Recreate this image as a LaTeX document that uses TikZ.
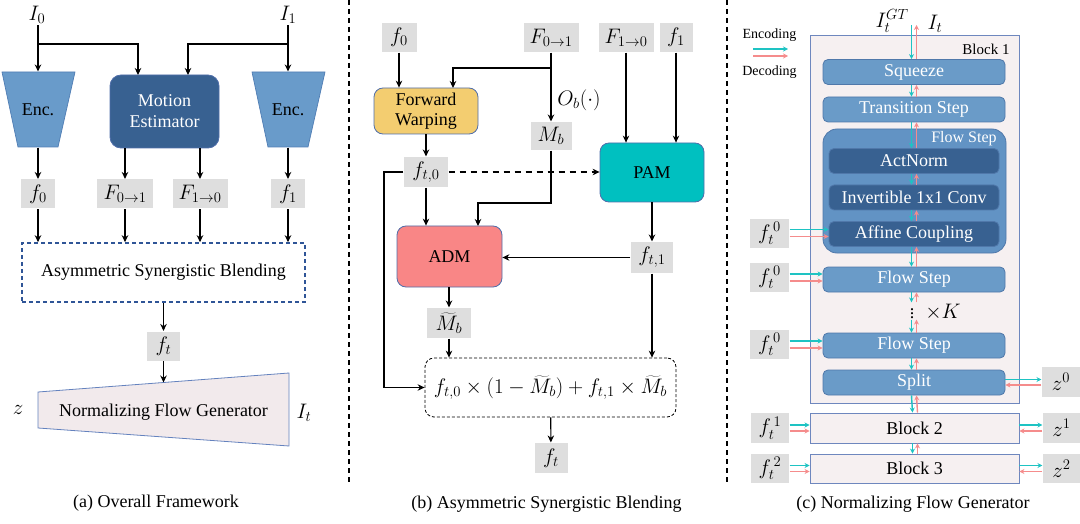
\RequirePackage{fix-cm}
\documentclass[tikz,border=0pt]{standalone}
\usepackage{fontspec}
\setmainfont{Liberation Serif}
\usetikzlibrary{arrows.meta,positioning}

\definecolor{encblue}{RGB}{105,155,202}
\definecolor{encedge}{RGB}{80,125,180}
\definecolor{darkblue}{RGB}{56,97,145}
\definecolor{lblgray}{RGB}{222,222,222}
\definecolor{asbblue}{RGB}{47,85,151}
\definecolor{nfgpink}{RGB}{242,234,236}
\definecolor{nfgedge}{RGB}{100,130,190}
\definecolor{fwgold}{RGB}{243,205,112}
\definecolor{pamteal}{RGB}{0,192,192}
\definecolor{admred}{RGB}{249,134,134}
\definecolor{edgeblue}{RGB}{80,110,170}
\definecolor{flowblue}{RGB}{106,155,200}
\definecolor{flowedge}{RGB}{80,120,170}
\definecolor{flowbig}{RGB}{98,147,196}
\definecolor{blockpink}{RGB}{246,240,241}
\definecolor{blockedge}{RGB}{110,135,190}
\definecolor{enccyan}{RGB}{30,195,195}
\definecolor{decpink}{RGB}{245,140,140}

\begin{document}
\begin{tikzpicture}[x=1pt, y=-1pt, >={Stealth[length=7pt,width=6.5pt]}, line width=1.1pt]
    \tikzstyle{txt} = [inner sep=1pt, font=\fontsize{18}{21}\selectfont]
    \tikzstyle{mtxt} = [inner sep=1pt, font=\fontsize{21}{23}\selectfont]
    \tikzstyle{lbl} = [rectangle, fill=lblgray, inner sep=0pt, minimum height=29, text centered, font=\fontsize{21}{23}\selectfont]
    \tikzstyle{procbox} = [rectangle, rounded corners=9pt, draw=edgeblue, line width=0.8pt, inner sep=0pt, align=center, font=\fontsize{18}{21}\selectfont]
    \tikzstyle{flowbox} = [rectangle, rounded corners=5pt, draw=flowedge, line width=0.8pt, fill=flowblue, text=white, minimum width=182, minimum height=25, inner sep=0pt, font=\fontsize{18}{21}\selectfont]
    \tikzstyle{innerbox} = [flowbox, fill=darkblue, minimum width=170]
    \tikzstyle{blockbox} = [rectangle, draw=blockedge, fill=blockpink, line width=0.9pt, minimum width=209, inner sep=0pt, font=\fontsize{18}{21}\selectfont]
    \tikzstyle{encarrow} = [-{Stealth[length=5pt,width=5pt]}, draw=enccyan, line width=1.4pt]
    \tikzstyle{decarrow} = [-{Stealth[length=5pt,width=5pt]}, draw=decpink, line width=1.4pt]

    \useasboundingbox (0,0) rectangle (1080,524);

    % Panel separators
    \draw[dash pattern=on 5pt off 4pt, line width=1.2pt] (349,0) -- (349,485);
    \draw[dash pattern=on 5pt off 4pt, line width=1.2pt] (727,0) -- (727,485);

    % (a) Overall framework
    \node[mtxt] (I0) at (37,15) {$I_0$};
    \node[mtxt] (I1) at (288,15) {$I_1$};
    \filldraw[fill=encblue, draw=encedge, line width=0.7pt] (2,72) -- (75,72) -- (58,147) -- (18,147) -- cycle;
    \filldraw[fill=encblue, draw=encedge, line width=0.7pt] (252,72) -- (325,72) -- (308,147) -- (268,147) -- cycle;
    \node[txt, minimum width=73, minimum height=75, inner sep=0pt] (enc0) at (38,109.5) {Enc.};
    \node[txt, minimum width=73, minimum height=75, inner sep=0pt] (enc1) at (288,109.5) {Enc.};
    \node[procbox, fill=darkblue, text=white, minimum width=109, minimum height=73, rounded corners=11pt] (me) at (164.5,111.5) {Motion\\Estimator};

    \node[lbl, minimum width=34] (f0a) at (38,194) {$f_0$};
    \node[lbl, minimum width=56] (F01a) at (125,194) {$F_{0\to1}$};
    \node[lbl, minimum width=55] (F10a) at (200,194) {$F_{1\to0}$};
    \node[lbl, minimum width=34] (f1a) at (288,194) {$f_1$};

    \node[txt, draw=asbblue, dash pattern=on 4pt off 3pt, line width=1.6pt, minimum width=283, minimum height=59] (asb) at (163.5,272.5) {Asymmetric Synergistic Blending};
    \node[lbl, minimum width=33] (fta) at (163.5,346) {$f_t$};

    \filldraw[fill=nfgpink, draw=nfgedge, line width=0.8pt] (38,392) -- (289,373) -- (289,446) -- (38,428) -- cycle;
    \node[txt] (nfg) at (163.5,412) {Normalizing Flow Generator};
    \coordinate (nfgin) at (163.5,382.5);
    \node[mtxt] (za) at (18,410) {$z$};
    \node[mtxt] (Ita) at (304,413) {$I_t$};
    \node[txt] (capa) at (156,503) {(a) Overall Framework};

    \coordinate (b0) at (38,44);
    \coordinate (b1) at (288,44);
    \coordinate (me0) at (138,75);
    \coordinate (me1) at (188,75);
    \draw[->] (I0.south -| enc0.north) -- (enc0.north);
    \draw[->] (I1.south -| enc1.north) -- (enc1.north);
    \draw[->] (b0) -| (me0);
    \draw[->] (b1) -| (me1);
    \draw[->] (enc0) -- (f0a);
    \draw[->] (enc1) -- (f1a);
    \draw[->] (F01a.north |- me.south) -- (F01a.north);
    \draw[->] (F10a.north |- me.south) -- (F10a.north);
    \draw[->] (f0a) -- (f0a |- asb.north);
    \draw[->] (F01a) -- (F01a |- asb.north);
    \draw[->] (F10a) -- (F10a |- asb.north);
    \draw[->] (f1a) -- (f1a |- asb.north);
    \draw[->] (asb) -- (fta);
    \draw[->] (fta) -- (nfgin);

    % (b) Asymmetric synergistic blending
    \node[lbl, minimum width=35] (f0b) at (399,37.5) {$f_0$};
    \node[lbl, minimum width=55] (F01b) at (551,37.5) {$F_{0\to1}$};
    \node[lbl, minimum width=55] (F10b) at (626,37.5) {$F_{1\to0}$};
    \node[lbl, minimum width=33] (f1b) at (676,37.5) {$f_1$};
    \node[procbox, fill=fwgold, minimum width=104, minimum height=46] (fw) at (426,111) {Forward\\[-1pt]Warping};
    \node[lbl, minimum width=41, minimum height=28] (Mb) at (551,136) {$M_b$};
    \node[mtxt] (Ob) at (579,100) {$O_b(\cdot)$};
    \node[lbl, minimum width=44, minimum height=30] (ft0) at (426,172) {$f_{t,0}$};
    \node[procbox, fill=pamteal, minimum width=104, minimum height=59] (pam) at (652,172.5) {PAM};
    \node[procbox, fill=admred, minimum width=105, minimum height=61] (adm) at (449.5,256.5) {ADM};
    \node[lbl, minimum width=42, minimum height=31] (ft1) at (652,257.5) {$f_{t,1}$};
    \node[lbl, minimum width=44, minimum height=30] (Mtb) at (449,323) {$\widetilde{M}_b$};
    \node[mtxt, draw, dash pattern=on 3pt off 2pt, rounded corners=9pt, line width=0.8pt, minimum width=251, minimum height=59] (blend) at (550.5,387.5) {$f_{t,0}\times\bigl(1-\widetilde{M}_b\bigr)+f_{t,1}\times\widetilde{M}_b$};
    \node[lbl, minimum width=33, minimum height=30] (ftb) at (551,458) {$f_t$};
    \node[txt] (capb) at (546.5,504) {(b) Asymmetric Synergistic Blending};

    \coordinate (bF) at (551,68);
    \coordinate (fwin) at (453,88);
    \coordinate (bM) at (551,203);
    \coordinate (admin) at (478,226);
    \coordinate (bL) at (384,172);
    \draw[->] (f0b) -- (f0b |- fw.north);
    \draw[->] (bF) -| (fwin);
    \draw[->] (F01b) -- (Mb);
    \draw[->] (fw) -- (ft0);
    \draw[->, dash pattern=on 6pt off 5pt] (ft0) -- (ft0 -| pam.west);
    \draw[->] (F10b) -- (F10b |- pam.north);
    \draw[->] (f1b) -- (f1b |- pam.north);
    \draw[->] (ft0) -- (ft0 |- adm.north);
    \draw[->] (Mb) -- (bM) -| (admin);
    \draw[->] (pam) -- (ft1);
    \draw[->] (ft1) -- (ft1 -| adm.east);
    \draw[->] (adm.south -| Mtb) -- (Mtb);
    \draw[->] (Mtb) -- (Mtb |- blend.north);
    \draw[->] (ft1) -- (ft1 |- blend.north);
    \draw[->] (ft0) -- (bL) |- (blend);
    \draw[->] (blend) -- (ftb);

    % (c) Normalizing flow generator
    \node[txt, font=\fontsize{14}{16}\selectfont] (encl) at (769.5,35) {Encoding};
    \node[txt, font=\fontsize{14}{16}\selectfont] (decl) at (769.5,72) {Decoding};
    \coordinate (lgA) at (753,49);
    \coordinate (lgB) at (788,49);
    \coordinate (lgC) at (753,56);
    \coordinate (lgD) at (788,56);
    \draw[encarrow] (lgA) -- (lgB);
    \draw[decarrow] (lgC) -- (lgD);

    \node[mtxt] (IGT) at (892,21) {$I_t^{GT}$};
    \node[mtxt] (Itc) at (935,24) {$I_t$};
    \coordinate (gtA) at (911.5,25);
    \coordinate (itA) at (916.5,25);

    \node[blockbox, minimum height=368] (blk1) at (914.5,219) {};
    \node[txt, font=\fontsize{15}{18}\selectfont] (blk1lbl) at (986,49) {Block 1};
    \node[flowbox] (sq) at (914,72) {Squeeze};
    \node[flowbox] (ts) at (914,109.5) {Transition Step};
    \node[flowbox, minimum width=183, minimum height=124, rounded corners=14pt, fill=flowbig] (fs1) at (914.5,191) {};
    \node[txt, text=white, font=\fontsize{16}{18}\selectfont] (fs1lbl) at (964,139) {Flow Step};
    \node[innerbox] (an) at (914,161) {ActNorm};
    \node[innerbox] (inv) at (914,197.5) {Invertible 1x1 Conv};
    \node[innerbox] (ac) at (914,234) {Affine Coupling};
    \node[flowbox] (fs2) at (914,279.5) {Flow Step};
    \node[txt, inner sep=0pt] (dots) at (912,311) {$\vdots$};
    \node[mtxt] (K) at (943,312) {$\times K$};
    \node[flowbox] (fs3) at (914,345.5) {Flow Step};
    \node[flowbox] (split) at (914,382.5) {Split};
    \node[blockbox, minimum height=30] (blk2) at (914.5,428) {Block 2};
    \node[blockbox, minimum height=29] (blk3) at (914.5,468.5) {Block 3};

    \node[lbl, minimum width=39] (c0a) at (769.5,233.5) {$f_t^{\,0}$};
    \node[lbl, minimum width=39] (c0b) at (769.5,277.5) {$f_t^{\,0}$};
    \node[lbl, minimum width=39] (c0c) at (769.5,344.5) {$f_t^{\,0}$};
    \node[lbl, minimum width=38, minimum height=30] (c1) at (770,428) {$f_t^{\,1}$};
    \node[lbl, minimum width=38, minimum height=29] (c2) at (770,468.5) {$f_t^{\,2}$};
    \node[lbl, minimum width=38, minimum height=30] (z0) at (1061,382) {$z^0$};
    \node[lbl, minimum width=37, minimum height=30] (z1) at (1061.5,428) {$z^1$};
    \node[lbl, minimum width=37, minimum height=29] (z2) at (1061.5,468.5) {$z^2$};

    % encoding goes down, decoding goes up
    \draw[encarrow] (gtA) -- ([xshift=-2.5pt]sq.north);
    \draw[decarrow] ([xshift=2.5pt]sq.north) -- (itA);
    \draw[encarrow] ([xshift=-2.5pt]sq.south) -- ([xshift=-2.5pt]ts.north);
    \draw[decarrow] ([xshift=2.5pt]ts.north) -- ([xshift=2.5pt]sq.south);
    \draw[encarrow] ([xshift=-2.5pt]ts.south) -- ([xshift=-2.5pt]an.north);
    \draw[decarrow] ([xshift=2.5pt]an.north) -- ([xshift=2.5pt]ts.south);
    \draw[encarrow] ([xshift=-2.5pt]an.south) -- ([xshift=-2.5pt]inv.north);
    \draw[decarrow] ([xshift=2.5pt]inv.north) -- ([xshift=2.5pt]an.south);
    \draw[encarrow] ([xshift=-2.5pt]inv.south) -- ([xshift=-2.5pt]ac.north);
    \draw[decarrow] ([xshift=2.5pt]ac.north) -- ([xshift=2.5pt]inv.south);
    \draw[encarrow] ([xshift=-2.5pt]ac.south) -- ([xshift=-2.5pt]fs2.north);
    \draw[decarrow] ([xshift=2.5pt]fs2.north) -- ([xshift=2.5pt]ac.south);
    \draw[encarrow] ([xshift=-2.5pt]fs2.south) -- ([xshift=-2.5pt]fs2.south |- dots.north);
    \draw[decarrow] ([xshift=2.5pt]fs2.south |- dots.north) -- ([xshift=2.5pt]fs2.south);
    \draw[encarrow] ([xshift=-2.5pt]fs3.north |- dots.south) -- ([xshift=-2.5pt]fs3.north);
    \draw[decarrow] ([xshift=2.5pt]fs3.north) -- ([xshift=2.5pt]fs3.north |- dots.south);
    \draw[encarrow] ([xshift=-2.5pt]fs3.south) -- ([xshift=-2.5pt]split.north);
    \draw[decarrow] ([xshift=2.5pt]split.north) -- ([xshift=2.5pt]fs3.south);
    \draw[encarrow] ([xshift=-2.5pt]split.south) -- ([xshift=-2pt]blk2.north);
    \draw[decarrow] ([xshift=3pt]blk2.north) -- ([xshift=2.5pt]split.south);
    \draw[encarrow] ([xshift=-2pt]blk2.south) -- ([xshift=-2pt]blk3.north);
    \draw[decarrow] ([xshift=3pt]blk3.north) -- ([xshift=3pt]blk2.south);

    % conditions from the left
    \draw[encarrow] ([yshift=4pt]c0a.east) -- ([yshift=4pt]c0a.east -| ac.west);
    \draw[decarrow] ([yshift=-3pt]c0a.east) -- ([yshift=-3pt]c0a.east -| ac.west);
    \draw[encarrow] ([yshift=3.5pt]c0b.east) -- ([yshift=3.5pt]c0b.east -| fs2.west);
    \draw[decarrow] ([yshift=-3.5pt]c0b.east) -- ([yshift=-3.5pt]c0b.east -| fs2.west);
    \draw[encarrow] ([yshift=3.5pt]c0c.east) -- ([yshift=3.5pt]c0c.east -| fs3.west);
    \draw[decarrow] ([yshift=-3.5pt]c0c.east) -- ([yshift=-3.5pt]c0c.east -| fs3.west);
    \draw[encarrow] ([yshift=3pt]c1.east) -- ([yshift=3pt]c1.east -| blk2.west);
    \draw[decarrow] ([yshift=-3pt]c1.east) -- ([yshift=-3pt]c1.east -| blk2.west);
    \draw[encarrow] ([yshift=3pt]c2.east) -- ([yshift=3pt]c2.east -| blk3.west);
    \draw[decarrow] ([yshift=-3pt]c2.east) -- ([yshift=-3pt]c2.east -| blk3.west);

    % latents to the right
    \draw[encarrow] ([yshift=3pt]split.east) -- ([yshift=3pt]split.east -| z0.west);
    \draw[decarrow] ([yshift=-3pt]z0.west) -- ([yshift=-3pt]z0.west -| split.east);
    \draw[encarrow] ([yshift=3pt]blk2.east) -- ([yshift=3pt]blk2.east -| z1.west);
    \draw[decarrow] ([yshift=-3pt]z1.west) -- ([yshift=-3pt]z1.west -| blk2.east);
    \draw[encarrow] ([yshift=3pt]blk3.east) -- ([yshift=3pt]blk3.east -| z2.west);
    \draw[decarrow] ([yshift=-3pt]z2.west) -- ([yshift=-3pt]z2.west -| blk3.east);

    \node[txt] (capc) at (913,504) {(c) Normalizing Flow Generator};
\end{tikzpicture}
\end{document}
